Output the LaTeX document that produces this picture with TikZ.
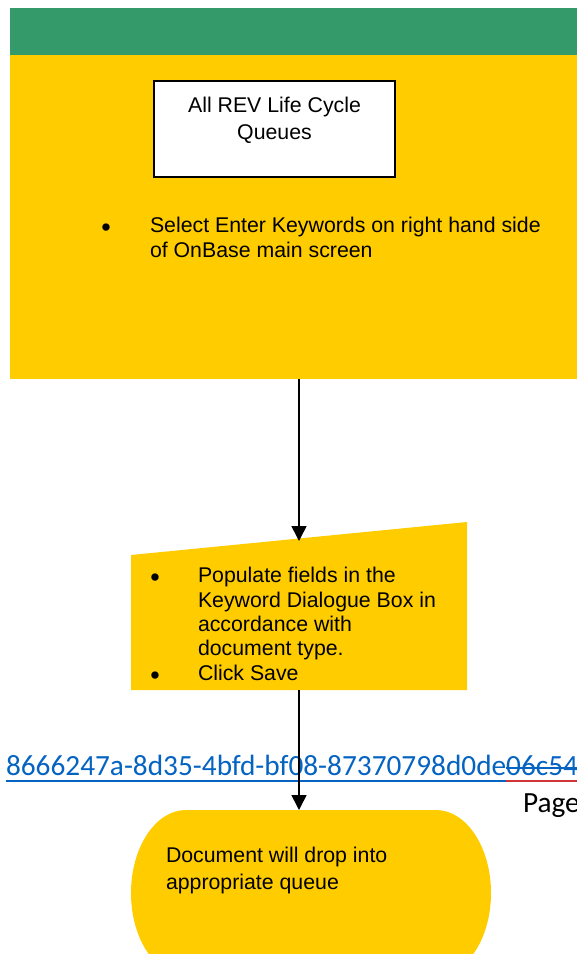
\documentclass[tikz,border=0pt]{standalone}
\usepackage{fontspec}
\setmainfont{Liberation Sans}
\newfontfamily\linkfont{Carlito}
\usetikzlibrary{arrows.meta}
\definecolor{bandgreen}{HTML}{359A69}
\definecolor{boxyellow}{HTML}{FFCC00}
\definecolor{linkblue}{HTML}{0563C1}
\definecolor{linkred}{HTML}{D13438}
\begin{document}
\begin{tikzpicture}[x=1pt,y=-1pt,
  every node/.style={inner sep=0pt, outer sep=0pt},
  body/.style={font=\fontsize{21.3}{#1}\selectfont, align=left, anchor=base west},
  body/.default=25,
  bul/.style={font=\fontsize{27}{30}\selectfont, anchor=base},
  link/.style={font=\linkfont\fontsize{29.3}{34}\selectfont, anchor=base west},
  conn/.style={line width=1.6pt, -{Triangle[width=15pt,length=15pt]}},
  yshape/.style={fill=boxyellow}]
\useasboundingbox (0,0) rectangle (577,954);

% header band and first step
\node[fill=bandgreen, minimum width=567pt, minimum height=48pt, anchor=north west] (band) at (10,8) {};
\node[yshape, minimum width=567pt, minimum height=324pt, anchor=north west] (step1) at (10,55) {};
\node[draw, fill=white, line width=1.5pt, minimum width=241pt, minimum height=96pt, anchor=north west] (rev) at (154,81) {};
% (base anchor of a multi-line node = baseline of its last line)
\node[font=\fontsize{21.3}{27}\selectfont, align=center, anchor=base] (revtext) at (274.5,139) {All REV Life Cycle\\Queues};
\node[bul] (b1) at (106,236.5) {•};
\node[body] (t1) at (150,257) {Select Enter Keywords on right hand side\\of OnBase main screen};

% manual input shape
\fill[yshape] (131,555) coordinate (mA) -- (467,522) coordinate (mB) -- (467,690) coordinate (mC) -- (131,690) coordinate (mD) -- cycle;
\coordinate (in2) at (299,541);
\coordinate (out2) at (299,690);
\begin{scope}
  \clip (131,520) rectangle (467,680);
  \node[bul] (b2) at (155,586.5) {•};
  \node[bul] (b3) at (155,684.5) {•};
  \node[body=24.3] (t2) at (198,680) {Populate fields in the\\Keyword Dialogue Box in\\accordance with\\document type.\\Click Save};
\end{scope}

% terminator
\coordinate (termtop) at (311,810);
\fill[yshape] (186,810) -- (436,810)
  arc[start angle=-90, end angle=0, x radius=55, y radius=83]
  arc[start angle=0, end angle=90, x radius=55, y radius=83]
  -- (186,976)
  arc[start angle=90, end angle=180, x radius=55, y radius=83]
  arc[start angle=180, end angle=270, x radius=55, y radius=83] -- cycle;
\node[body=27] (t3) at (166,889) {Document will drop into\\appropriate queue};

% footer link
\node[link, text=linkblue] (link1) at (6,775) {8666247a-8d35-4bfd-bf08-87370798d0de};
\node[link, text=linkblue] (link2) at (link1.base east) {06c54};
\draw[linkblue, line width=2pt] ([yshift=-6pt]link1.base west) -- ([yshift=-6pt]link1.base east);
\draw[linkred, line width=2pt] ([yshift=-6pt]link2.base west) -- ([yshift=-6pt]link2.base west -| band.east);
\draw[linkblue, line width=1.5pt] ([yshift=7pt]link2.base west) -- ([yshift=7pt]link2.base east);
\node[link] (page) at (523,812) {Page};

% connectors
\draw[conn] (step1.south -| in2) -- (in2);
\draw[conn] (out2) -- (termtop -| out2);
\end{tikzpicture}
\end{document}
